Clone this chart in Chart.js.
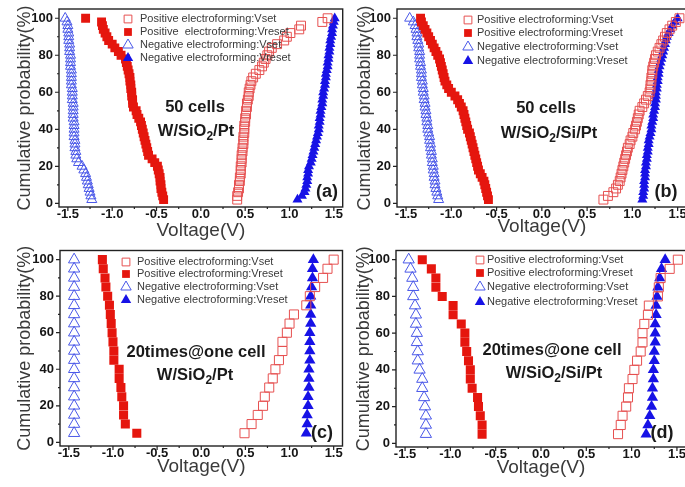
<!DOCTYPE html>
<html lang="en">
<head>
<meta charset="UTF-8">
<title>Cumulative probability of Vset and Vreset</title>
<script src="https://cdn.jsdelivr.net/npm/chart.js"></script>
<style>
  body { margin: 0; background: #fff; }
  .panel { position: absolute; overflow: hidden; }
  .panel canvas { position: absolute; left: 0; top: 0; }
</style>
</head>
<body>
<div class="panel" style="left:0;top:0;width:344px;height:243px"><canvas id="ca" width="350" height="243"></canvas></div>
<div class="panel" style="left:344px;top:0;width:341px;height:243px"><canvas id="cb" width="350" height="243"></canvas></div>
<div class="panel" style="left:0;top:243px;width:344px;height:244px"><canvas id="cc" width="350" height="244"></canvas></div>
<div class="panel" style="left:344px;top:243px;width:341px;height:244px"><canvas id="cd" width="350" height="244"></canvas></div>
<script>
// cumulative probability (%) for 50 cells and 20 cycles
const P50 = [2,4,6,8,10,12,14,16,18,20,22,24,26,28,30,32,34,36,38,40,42,44,46,48,50,
             52,54,56,58,60,62,64,66,68,70,72,74,76,78,80,82,84,86,88,90,92,94,96,98,100];
const P20 = [5,10,15,20,25,30,35,40,45,50,55,60,65,70,75,80,85,90,95,100];

// axis ticks
const X_TICKS = [-1.5, -1.0, -0.5, 0.0, 0.5, 1.0, 1.5];
const X_MINOR = [-1.25, -0.75, -0.25, 0.25, 0.75, 1.25];
const Y_TICKS = [0, 20, 40, 60, 80, 100];
const Y_MINOR = [10, 30, 50, 70, 90];

const LEGEND_LABELS = ["Positive electroforming:Vset", "Positive electroforming:Vreset",
                       "Negative electroforming:Vset", "Negative electroforming:Vreset"];

// (a) 50 cells W/SiO2/Pt
const aPosSet = [0.41,0.41,0.42,0.43,0.43,0.44,0.44,0.45,0.45,0.45,
                 0.46,0.46,0.46,0.47,0.47,0.48,0.48,0.48,0.49,0.49,
                 0.49,0.50,0.50,0.51,0.51,0.52,0.52,0.53,0.54,0.54,
                 0.55,0.56,0.57,0.59,0.62,0.66,0.69,0.71,0.73,0.75,
                 0.77,0.80,0.86,0.94,0.97,1.01,1.11,1.13,1.37,1.43];
const aPosReset = [-0.42,-0.43,-0.44,-0.45,-0.45,-0.46,-0.46,-0.47,-0.48,-0.49,
                   -0.52,-0.55,-0.59,-0.60,-0.61,-0.62,-0.63,-0.64,-0.65,-0.66,
                   -0.67,-0.68,-0.70,-0.72,-0.73,-0.76,-0.77,-0.77,-0.78,-0.78,
                   -0.79,-0.79,-0.80,-0.80,-0.81,-0.82,-0.83,-0.84,-0.85,-0.90,
                   -0.93,-0.97,-1.00,-1.04,-1.06,-1.08,-1.10,-1.11,-1.12,-1.30];
const aNegSet = [-1.23,-1.24,-1.25,-1.26,-1.27,-1.28,-1.29,-1.30,-1.32,-1.34,
                 -1.38,-1.40,-1.41,-1.41,-1.42,-1.42,-1.42,-1.43,-1.43,-1.43,
                 -1.43,-1.43,-1.44,-1.44,-1.44,-1.44,-1.44,-1.45,-1.45,-1.45,
                 -1.45,-1.46,-1.46,-1.46,-1.46,-1.46,-1.47,-1.47,-1.47,-1.47,
                 -1.48,-1.48,-1.48,-1.49,-1.49,-1.49,-1.50,-1.50,-1.51,-1.53];
const aNegReset = [1.09,1.14,1.17,1.18,1.19,1.20,1.20,1.21,1.21,1.22,
                   1.24,1.25,1.26,1.27,1.28,1.29,1.30,1.31,1.32,1.33,
                   1.33,1.34,1.34,1.35,1.35,1.36,1.37,1.37,1.38,1.38,
                   1.39,1.40,1.40,1.41,1.41,1.42,1.43,1.43,1.44,1.44,
                   1.45,1.45,1.46,1.46,1.47,1.48,1.48,1.49,1.50,1.51];

// (b) 50 cells W/SiO2/Si/Pt
const bPosSet = [0.68,0.73,0.79,0.82,0.84,0.86,0.87,0.88,0.89,0.90,
                 0.91,0.92,0.93,0.94,0.95,0.97,0.98,1.00,1.01,1.03,
                 1.04,1.05,1.06,1.07,1.08,1.11,1.13,1.15,1.17,1.19,
                 1.20,1.20,1.21,1.21,1.22,1.22,1.23,1.24,1.25,1.26,
                 1.28,1.30,1.32,1.34,1.36,1.38,1.41,1.44,1.48,1.52];
const bPosReset = [-0.59,-0.60,-0.61,-0.62,-0.63,-0.64,-0.66,-0.68,-0.70,-0.71,
                   -0.72,-0.73,-0.74,-0.75,-0.76,-0.77,-0.78,-0.79,-0.80,-0.82,
                   -0.83,-0.84,-0.85,-0.86,-0.87,-0.89,-0.91,-0.93,-0.96,-1.00,
                   -1.03,-1.05,-1.07,-1.08,-1.09,-1.10,-1.11,-1.12,-1.13,-1.15,
                   -1.17,-1.19,-1.21,-1.23,-1.25,-1.27,-1.29,-1.31,-1.33,-1.34];
const bNegSet = [-1.14,-1.15,-1.16,-1.17,-1.18,-1.18,-1.19,-1.19,-1.20,-1.20,
                 -1.21,-1.21,-1.22,-1.22,-1.23,-1.23,-1.24,-1.24,-1.25,-1.26,
                 -1.26,-1.27,-1.27,-1.28,-1.28,-1.29,-1.29,-1.30,-1.30,-1.31,
                 -1.31,-1.32,-1.32,-1.33,-1.33,-1.33,-1.34,-1.34,-1.35,-1.35,
                 -1.35,-1.36,-1.36,-1.37,-1.38,-1.38,-1.39,-1.40,-1.42,-1.46];
const bNegReset = [1.11,1.12,1.12,1.13,1.13,1.13,1.14,1.14,1.14,1.15,
                   1.15,1.16,1.16,1.17,1.17,1.18,1.18,1.19,1.20,1.21,
                   1.21,1.22,1.23,1.23,1.24,1.25,1.25,1.26,1.26,1.26,
                   1.27,1.27,1.28,1.28,1.29,1.29,1.30,1.31,1.32,1.33,
                   1.34,1.35,1.36,1.37,1.38,1.40,1.42,1.44,1.47,1.50];

// (c) 20 times @ one cell W/SiO2/Pt
const cPosSet = [0.49,0.57,0.64,0.70,0.72,0.77,0.81,0.84,0.88,0.92,
                 0.92,0.97,1.00,1.05,1.19,1.23,1.29,1.38,1.43,1.50];
const cPosReset = [-0.73,-0.86,-0.88,-0.88,-0.90,-0.91,-0.93,-0.93,-0.99,-0.99,
                   -1.00,-1.01,-1.02,-1.03,-1.04,-1.06,-1.08,-1.09,-1.11,-1.12];
const cNegSet = [-1.44,-1.44,-1.44,-1.44,-1.44,-1.44,-1.44,-1.44,-1.44,-1.44,
                 -1.44,-1.44,-1.44,-1.44,-1.44,-1.44,-1.44,-1.44,-1.44,-1.44];
const cNegReset = [1.19,1.20,1.20,1.21,1.21,1.22,1.22,1.22,1.23,1.23,
                   1.23,1.23,1.24,1.24,1.24,1.24,1.25,1.26,1.26,1.27];

// (d) 20 times @ one cell W/SiO2/Si/Pt
const dPosSet = [0.85,0.88,0.90,0.94,0.96,0.97,1.01,1.03,1.06,1.10,
                 1.12,1.12,1.14,1.18,1.19,1.29,1.30,1.32,1.42,1.51];
const dPosReset = [-0.65,-0.65,-0.67,-0.69,-0.70,-0.76,-0.78,-0.78,-0.80,-0.82,
                   -0.84,-0.84,-0.88,-0.97,-0.97,-1.09,-1.16,-1.16,-1.21,-1.31];
const dNegSet = [-1.27,-1.27,-1.27,-1.28,-1.29,-1.31,-1.31,-1.34,-1.36,-1.36,
                 -1.37,-1.37,-1.38,-1.38,-1.39,-1.41,-1.41,-1.42,-1.44,-1.46];
const dNegReset = [1.16,1.18,1.20,1.22,1.23,1.23,1.24,1.24,1.25,1.25,
                   1.26,1.26,1.26,1.27,1.27,1.28,1.29,1.31,1.33,1.37];

const FONT = "'Liberation Sans', Arial, sans-serif";
const RED_OPEN = '#e65050';
const RED = '#e5160e';
const BLUE_OPEN = '#4a58e8';
const BLUE = '#1712e6';

function pts(xs, ys) {
  return xs.map((x, i) => ({ x: x, y: ys[i] }));
}

function drawMarker(ctx, style, filled, color, x, y, r) {
  ctx.save();
  ctx.beginPath();
  if (style === 'rect') {
    const s = r * Math.SQRT1_2;
    ctx.rect(x - s, y - s, 2 * s, 2 * s);
  } else {
    ctx.moveTo(x, y - r);
    ctx.lineTo(x + 0.866 * r, y + 0.5 * r);
    ctx.lineTo(x - 0.866 * r, y + 0.5 * r);
    ctx.closePath();
  }
  if (filled) { ctx.fillStyle = color; ctx.fill(); }
  else { ctx.strokeStyle = color; ctx.lineWidth = 1; ctx.stroke(); }
  ctx.restore();
}

// frame, outward ticks, legend, inner notes and panel letter
const decor = {
  id: 'decor',
  afterDraw(chart, args, o) {
    const ctx = chart.ctx;
    const a = chart.chartArea;
    const xs = chart.scales.x, ys = chart.scales.y;
    ctx.save();
    ctx.strokeStyle = '#222';
    ctx.lineWidth = 1.4;
    ctx.strokeRect(a.left, a.top, a.right - a.left, a.bottom - a.top);
    ctx.lineWidth = 1.2;
    ctx.beginPath();
    X_TICKS.forEach(v => { const p = xs.getPixelForValue(v); ctx.moveTo(p, a.bottom); ctx.lineTo(p, a.bottom + 4); });
    X_MINOR.forEach(v => { const p = xs.getPixelForValue(v); ctx.moveTo(p, a.bottom); ctx.lineTo(p, a.bottom + 2); });
    Y_TICKS.forEach(v => { const p = ys.getPixelForValue(v); ctx.moveTo(a.left, p); ctx.lineTo(a.left - 4, p); });
    Y_MINOR.forEach(v => { const p = ys.getPixelForValue(v); ctx.moveTo(a.left, p); ctx.lineTo(a.left - 2, p); });
    ctx.stroke();

    // legend
    ctx.font = '11px ' + FONT;
    ctx.textBaseline = 'middle';
    chart.data.datasets.forEach((ds, i) => {
      const y = o.legY[i];
      drawMarker(ctx, ds.pointStyle, ds.backgroundColor !== 'transparent',
                 ds.borderColor, o.legX, y, ds.pointStyle === 'rect' ? 5.5 : 6);
      ctx.fillStyle = '#3a3a3a';
      ctx.fillText(o.legText[i], o.legTX, y);
    });

    // notes in the plot
    ctx.fillStyle = '#1a1a1a';
    ctx.textBaseline = 'middle';
    o.notes.forEach((n, i) => {
      const y = o.noteY[i];
      const big = 'bold 16.5px ' + FONT, small = 'bold 12px ' + FONT;
      let w = 0;
      n.forEach(part => { ctx.font = part[1] ? small : big; w += ctx.measureText(part[0]).width; });
      let x = o.noteX[i] - w / 2;
      n.forEach(part => {
        ctx.font = part[1] ? small : big;
        ctx.fillText(part[0], x, part[1] ? y + 6 : y);
        x += ctx.measureText(part[0]).width;
      });
    });

    ctx.font = 'bold 18px ' + FONT;
    ctx.textAlign = 'center';
    ctx.fillText(o.tag, o.tagX, o.tagY);
    ctx.restore();
  }
};

function makePanel(id, L, sets, opts) {
  const canvas = document.getElementById(id);
  const W = canvas.width, H = canvas.height;
  const small = L.big ? 6.4 : 6.3;
  const tri = L.big ? 6.5 : 5.8;
  new Chart(canvas, {
    type: 'scatter',
    data: {
      datasets: [
        { label: LEGEND_LABELS[0], data: sets[0], pointStyle: 'rect', radius: small, borderWidth: 1,
          borderColor: RED_OPEN, backgroundColor: 'transparent' },
        { label: LEGEND_LABELS[1], data: sets[1], pointStyle: 'rect', radius: small, borderWidth: 0,
          borderColor: RED, backgroundColor: RED },
        { label: LEGEND_LABELS[2], data: sets[2], pointStyle: 'triangle', radius: tri, borderWidth: 1,
          borderColor: BLUE_OPEN, backgroundColor: 'transparent' },
        { label: LEGEND_LABELS[3], data: sets[3], pointStyle: 'triangle', radius: tri, borderWidth: 0,
          borderColor: BLUE, backgroundColor: BLUE }
      ]
    },
    options: {
      responsive: false,
      animation: false,
      devicePixelRatio: 1,
      layout: { padding: { left: 0, top: L.top, right: W - L.right, bottom: 0 } },
      plugins: { legend: { display: false }, tooltip: { enabled: false }, decor: opts },
      scales: {
        x: {
          type: 'linear', min: -1.6, max: 1.6,
          afterBuildTicks: s => { s.ticks = X_TICKS.map(v => ({ value: v })); },
          afterFit: s => { s.height = H - L.bottom; s.paddingLeft = 0; s.paddingRight = 0; },
          grid: { display: false, drawTicks: false },
          border: { display: false },
          ticks: { padding: L.xPad, color: '#151515', maxRotation: 0, autoSkip: false,
                   font: { family: FONT, size: 13, weight: 'bold' },
                   callback: v => v.toFixed(1) },
          title: { display: true, text: 'Voltage(V)', color: '#3a3a3a',
                   font: { family: FONT, size: 19, lineHeight: 1 },
                   padding: { top: 0, bottom: L.xTitle } }
        },
        y: {
          type: 'linear', min: -2, max: 105,
          afterBuildTicks: s => { s.ticks = Y_TICKS.map(v => ({ value: v })); },
          afterFit: s => { s.width = L.left; s.paddingTop = 0; s.paddingBottom = 0; },
          grid: { display: false, drawTicks: false },
          border: { display: false },
          ticks: { padding: 6, color: '#151515', autoSkip: false,
                   font: { family: FONT, size: 13, weight: 'bold' } },
          title: { display: true, text: 'Cumulative probability(%)', color: '#3a3a3a',
                   font: { family: FONT, size: 18, lineHeight: 1 },
                   padding: { top: L.yTitle, bottom: 0 } }
        }
      }
    },
    plugins: [decor]
  });
}

makePanel('ca', { left: 59, right: 346, top: 9, bottom: 207, xPad: 0, xTitle: 3, yTitle: 16 },
  [pts(aPosSet, P50), pts(aPosReset, P50), pts(aNegSet, P50), pts(aNegReset, P50)],
  { legX: 128, legTX: 140, legY: [19, 32, 45, 58], tag: '(a)', tagX: 327, tagY: 192,
    legText: ["Positive electroforming:Vset", "Positive  electroforming:Vreset",
              "Negative electroforming:Vset", "Negative electroforming:Vreset"],
    notes: [[['50 cells', false]], [['W/SiO', false], ['2', true], ['/Pt', false]]],
    noteX: [195, 196], noteY: [107, 131] });

makePanel('cb', { left: 53, right: 343, top: 9, bottom: 207, xPad: 0, xTitle: 7, yTitle: 12 },
  [pts(bPosSet, P50), pts(bPosReset, P50), pts(bNegSet, P50), pts(bNegReset, P50)],
  { legX: 124, legTX: 133, legY: [20, 33, 47, 61], tag: '(b)', tagX: 322, tagY: 192,
    legText: LEGEND_LABELS,
    notes: [[['50 cells', false]], [['W/SiO', false], ['2', true], ['/Si/Pt', false]]],
    noteX: [202, 205], noteY: [108, 133] });

makePanel('cc', { left: 60, right: 346, top: 7, bottom: 203, xPad: 0, xTitle: 11, yTitle: 16, big: true },
  [pts(cPosSet, P20), pts(cPosReset, P20), pts(cNegSet, P20), pts(cNegReset, P20)],
  { legX: 126, legTX: 137, legY: [19, 31, 44, 57], tag: '(c)', tagX: 322, tagY: 190,
    legText: LEGEND_LABELS,
    notes: [[['20times@one cell', false]], [['W/SiO', false], ['2', true], ['/Pt', false]]],
    noteX: [196, 195], noteY: [109, 132] });

makePanel('cd', { left: 52, right: 342, top: 7, bottom: 204, xPad: 0, xTitle: 10, yTitle: 11, big: true },
  [pts(dPosSet, P20), pts(dPosReset, P20), pts(dNegSet, P20), pts(dNegReset, P20)],
  { legX: 136, legTX: 143, legY: [17, 30, 44, 59], tag: '(d)', tagX: 318, tagY: 190,
    legText: LEGEND_LABELS,
    notes: [[['20times@one cell', false]], [['W/SiO', false], ['2', true], ['/Si/Pt', false]]],
    noteX: [208, 210], noteY: [107, 130] });
</script>
</body>
</html>
